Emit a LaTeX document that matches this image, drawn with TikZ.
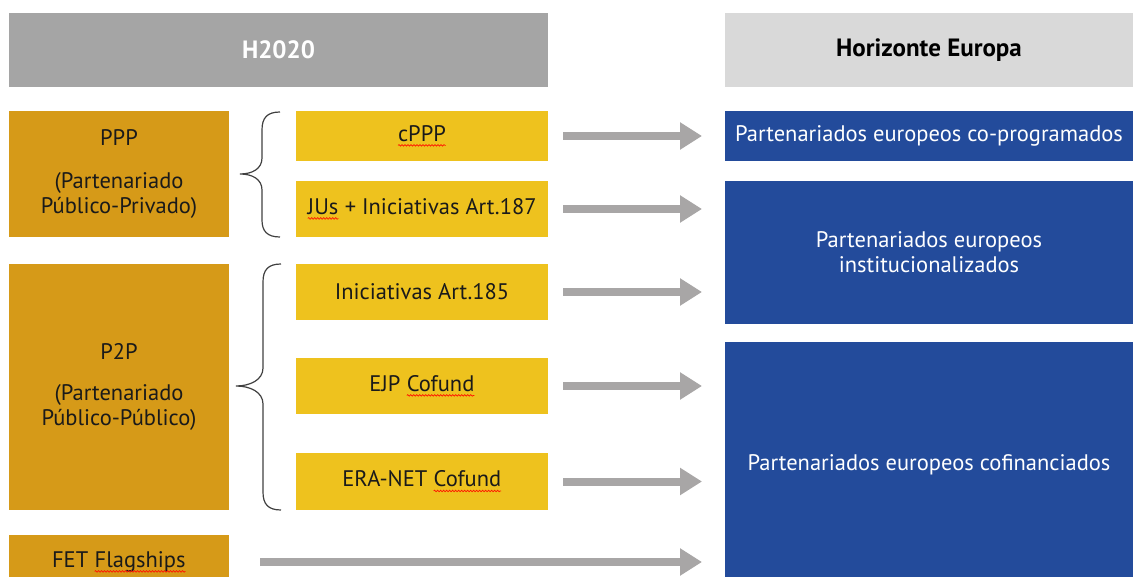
\documentclass[tikz,border=0pt]{standalone}
\usepackage{fontspec}
\setmainfont{PT Sans}
\usetikzlibrary{arrows.meta,calc,decorations.pathmorphing}
\definecolor{hgray}{HTML}{A5A5A5}
\definecolor{hlight}{HTML}{D9D9D9}
\definecolor{ochre}{HTML}{D69A18}
\definecolor{yel}{HTML}{EEC21E}
\definecolor{eublue}{HTML}{234B9B}
\definecolor{argray}{HTML}{A8A6A6}
\definecolor{txt}{HTML}{1A1A1A}
\definecolor{bracec}{HTML}{404040}
\newcommand\sq[1]{\tikz[baseline=(t.base)]{\node[inner sep=0pt,outer sep=0pt,minimum width=0pt,minimum height=0pt,anchor=base,fill=none,draw=none,text=txt](t) at (0pt,0pt) {#1};\draw[red!85!orange, line width=0.7pt, decorate, decoration={snake,amplitude=0.8pt,segment length=3pt}]([yshift=-4pt]t.base west)--([yshift=-4pt]t.base east);}}
\begin{document}
\begin{tikzpicture}[x=1pt,y=-1pt,
  box/.style={rectangle, inner sep=0pt, outer sep=0pt, anchor=north west, align=center, text=txt, font=\fontsize{22.5}{25}\selectfont},
  hdr/.style={box, font=\fontsize{25}{28}\selectfont\bfseries},
  lbox/.style={box, fill=ochre, minimum width=220pt},
  ybox/.style={box, fill=yel, minimum width=252pt},
  bbox/.style={box, fill=eublue, text=white, minimum width=408pt},
  arr/.style={draw=argray, line width=8pt, -{Triangle[length=22pt,width=26pt]}},
  bracestyle/.style={draw=bracec, line width=1.2pt}]
\useasboundingbox (0,0) rectangle (1133,577);

\node[hdr, fill=hgray, text=white, minimum width=539pt, minimum height=74pt] (h20) at (9,13) {H2020};
\node[hdr, fill=hlight, text=black, minimum width=408pt, minimum height=74pt] (he) at (725,13) {Horizonte Europa};

\node[lbox, minimum height=126pt] (ppp) at (9,111) {PPP\\[18pt](Partenariado\\Público-Privado)};
\node[lbox, minimum height=246pt] (p2p) at (9,264) {P2P\\[16pt](Partenariado\\Público-Público)};
\node[lbox, minimum height=54pt] (fet) at (9,535) {FET \sq{Flagships}};

\node[ybox, minimum height=50pt] (cppp) at (296,111) {\sq{cPPP}};
\node[ybox, minimum height=56pt] (jus) at (296,181) {\sq{JUs} + Iniciativas Art.187};
\node[ybox, minimum height=56pt] (ini) at (296,264) {Iniciativas Art.185};
\node[ybox, minimum height=56pt] (ejp) at (296,358) {EJP \sq{Cofund}};
\node[ybox, minimum height=57pt] (era) at (296,453) {ERA-NET \sq{Cofund}};

\node[bbox, minimum height=50pt] (copro) at (725,111) {Partenariados europeos co-programados};
\node[bbox, minimum height=143pt] (inst) at (725,181) {Partenariados europeos\\institucionalizados};
\node[bbox, minimum height=246pt] (cofin) at (725,342) {Partenariados europeos cofinanciados};

\draw[arr] ($(cppp.east)+(15,0)$) -- ($(copro.west |- cppp.east)+(-23,0)$);
\draw[arr] ($(jus.east)+(15,0)$) -- ($(inst.west |- jus.east)+(-23,0)$);
\draw[arr] ($(ini.east)+(15,0)$) -- ($(inst.west |- ini.east)+(-23,0)$);
\draw[arr] ($(ejp.east)+(15,0)$) -- ($(cofin.west |- ejp.east)+(-23,0)$);
\draw[arr] ($(era.east)+(15,0)$) -- ($(cofin.west |- era.east)+(-23,0)$);
\draw[arr] ($(fet.east)+(31,0)$) -- ($(cofin.west |- fet.east)+(-23,0)$);

\draw[bracestyle] (280,112) .. controls (267,112) and (262,118) .. (262,130) -- (262,158) .. controls (262,169) and (252,174) .. (240,174) .. controls (252,174) and (262,179) .. (262,190) -- (262,220) .. controls (262,231) and (267,237) .. (280,237);
\draw[bracestyle] (281,264) .. controls (268,264) and (263,270) .. (263,282) -- (263,368) .. controls (263,380) and (250,386) .. (236,386) .. controls (250,386) and (263,392) .. (263,404) -- (263,492) .. controls (263,504) and (268,510) .. (281,510);
\end{tikzpicture}
\end{document}
